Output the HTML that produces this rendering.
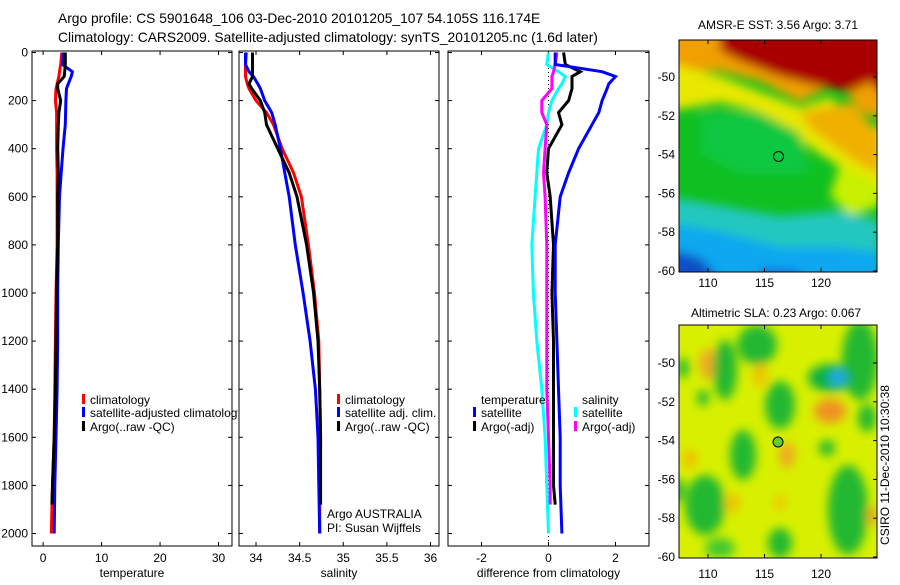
<!DOCTYPE html>
<html><head><meta charset="utf-8"><style>
html,body{margin:0;padding:0;background:#fff;}
svg text{font-family:"Liberation Sans",sans-serif;font-size:12px;fill:#000;}
</style></head><body>
<svg id="fig" width="900" height="580" viewBox="0 0 900 580" xmlns="http://www.w3.org/2000/svg">
<defs>
<filter id="blur1" x="-20%" y="-20%" width="140%" height="140%"><feGaussianBlur stdDeviation="5"/></filter>
<filter id="blur2" x="-20%" y="-20%" width="140%" height="140%"><feGaussianBlur stdDeviation="5"/></filter>
<clipPath id="clipM1"><rect x="679" y="40" width="198" height="232"/></clipPath>
<clipPath id="clipM2"><rect x="679" y="325" width="198" height="233"/></clipPath>
<clipPath id="clipP1"><rect x="0" y="0" width="238" height="580"/></clipPath>
</defs>
<text x="58" y="23" style="font-size:13.8px">Argo profile: CS 5901648_106 03-Dec-2010 20101205_107 54.105S 116.174E</text>
<text x="58" y="42" style="font-size:13.8px">Climatology: CARS2009. Satellite-adjusted climatology: synTS_20101205.nc (1.6d later)</text>

<g clip-path="url(#clipM1)">
<rect x="679" y="40" width="198" height="232" fill="#10c020"/>
<g filter="url(#blur1)" transform="translate(0,40) scale(1,1.036) translate(0,-40)">
<polygon points="660,30 900,30 900,120 860,110 840,80 800,100 760,80 720,70 660,70" fill="#f0a000"/>
<polygon points="660,60 720,75 760,90 800,105 830,95 860,120 900,130 900,180 870,200 860,175 820,150 790,130 760,110 720,100 660,110" fill="#e8e800"/>
<polygon points="720,30 900,30 900,110 870,80 850,90 820,85 780,75 740,60 720,50" fill="#a80000"/>
<polygon points="800,110 850,100 880,130 880,170 860,160 830,140 810,125" fill="#f0b000"/>
<polygon points="840,160 880,180 880,200 850,210 830,190" fill="#c8f000"/>
<polygon points="700,110 760,110 800,130 810,170 740,170 700,150" fill="#10c840"/>
<polygon points="660,190 720,200 780,210 840,205 880,215 880,280 660,280" fill="#20c8c0"/>
<polygon points="660,215 720,225 780,240 840,240 880,245 880,280 660,280" fill="#10a8f0"/>
<polygon points="660,240 700,250 720,270 660,280" fill="#0850c8"/>
<polygon points="760,260 800,262 800,280 760,280" fill="#1070e0"/>
</g>
</g>
<rect x="679" y="40" width="198" height="232" fill="none" stroke="#000"/>
<circle cx="778.5" cy="156.5" r="5" fill="none" stroke="#000"/>
<text x="778" y="29" text-anchor="middle">AMSR-E SST: 3.56 Argo: 3.71</text>

<g clip-path="url(#clipM2)">
<rect x="679" y="325" width="198" height="233" fill="#d8f000"/>
<g filter="url(#blur2)">
<ellipse cx="708" cy="364" rx="9" ry="15" fill="#f0a820"/>
<ellipse cx="830" cy="411" rx="16" ry="12" fill="#f09020"/>
<ellipse cx="787" cy="455" rx="8" ry="13" fill="#f0a820"/>
<ellipse cx="690" cy="459" rx="7" ry="10" fill="#f0c000"/>
<ellipse cx="733" cy="503" rx="7" ry="10" fill="#f0c000"/>
<ellipse cx="780" cy="503" rx="5" ry="8" fill="#f0c000"/>
<ellipse cx="873" cy="516" rx="6" ry="10" fill="#f0b000"/>
<ellipse cx="760" cy="375" rx="7" ry="12" fill="#f0c000"/>
<ellipse cx="725" cy="370" rx="12" ry="30" fill="#20b830"/>
<ellipse cx="757" cy="345" rx="20" ry="20" fill="#20b830"/>
<ellipse cx="860" cy="360" rx="18" ry="40" fill="#20b830"/>
<ellipse cx="830" cy="378" rx="22" ry="14" fill="#10b040"/>
<ellipse cx="838" cy="378" rx="9" ry="9" fill="#20a8e8"/>
<ellipse cx="780" cy="405" rx="15" ry="24" fill="#20b830"/>
<ellipse cx="743" cy="455" rx="13" ry="25" fill="#20b830"/>
<ellipse cx="705" cy="505" rx="20" ry="30" fill="#20b830"/>
<ellipse cx="848" cy="510" rx="20" ry="45" fill="#20b830"/>
<ellipse cx="780" cy="543" rx="12" ry="15" fill="#20b830"/>
<ellipse cx="683" cy="368" rx="6" ry="10" fill="#20b830"/>
<ellipse cx="703" cy="398" rx="6" ry="8" fill="#20b830"/>
<ellipse cx="827" cy="448" rx="8" ry="8" fill="#20b830"/>
<ellipse cx="867" cy="418" rx="9" ry="14" fill="#20b830"/>
<ellipse cx="678" cy="490" rx="6" ry="12" fill="#20b830"/>
<ellipse cx="720" cy="548" rx="15" ry="10" fill="#40c830"/>
</g>
</g>
<rect x="679" y="325" width="198" height="233" fill="none" stroke="#000"/>
<circle cx="778" cy="442" r="5" fill="#60d030" stroke="#000"/>
<text x="776" y="317" text-anchor="middle">Altimetric SLA: 0.23 Argo: 0.067</text>
<text transform="translate(889,465) rotate(-90)" text-anchor="middle">CSIRO 11-Dec-2010 10:30:38</text>

<g id="plots"></g>
</svg>
<script>
// depth grids
const depthT = [0,50,80,100,130,150,200,250,300,400,500,600,800,1000,1200,1400,1600,1800,2000];
const tClim = [3.2,3.0,2.8,2.7,2.4,2.2,2.1,2.3,2.3,2.3,2.4,2.4,2.4,2.2,2.1,2.0,1.9,1.6,1.4];
const tSat  = [3.5,3.3,5.0,4.8,4.3,4.0,3.9,3.85,3.8,3.4,3.1,2.8,2.6,2.5,2.5,2.4,2.2,2.0,1.9];
const depthArgo = [0,50,80,100,130,150,200,250,300,400,500,600,800,1000,1200,1400,1600,1800,1880];
const tArgo = [3.8,3.8,3.7,3.6,2.5,2.5,3.0,2.7,2.6,2.5,2.6,2.5,2.5,2.3,2.2,2.1,1.9,1.6,1.5];
const sClim = [33.89,33.88,33.88,33.88,33.9,33.92,34.0,34.12,34.2,34.3,34.43,34.52,34.6,34.67,34.72,34.73,34.74,34.73,34.73];
const sSat  = [33.88,33.88,33.92,33.97,34.02,34.05,34.1,34.18,34.22,34.28,34.33,34.38,34.45,34.54,34.62,34.68,34.71,34.72,34.73];
const sArgo = [33.96,33.96,33.96,33.96,33.92,33.95,34.05,34.1,34.12,34.25,34.38,34.47,34.58,34.66,34.71,34.73,34.74,34.74,34.74];
const dTSat  = [0.2,0.2,1.6,2.0,1.8,1.75,1.6,1.5,1.3,0.9,0.6,0.35,0.2,0.2,0.25,0.3,0.35,0.35,0.4];
const dTArgo = [0.45,0.5,0.95,0.7,0.7,0.7,0.6,0.3,0.4,0.0,-0.05,0.05,0.15,0.1,0.15,0.15,0.15,0.15,0.2];
const dSSat  = [0.0,-0.05,0.3,0.5,0.4,0.3,0.1,0.0,-0.05,-0.3,-0.35,-0.4,-0.5,-0.45,-0.35,-0.2,-0.1,-0.05,0.0];
const dSArgo = [0.25,0.2,0.15,0.1,0.1,0.1,-0.2,-0.2,-0.05,-0.1,-0.15,-0.1,-0.05,-0.05,-0.05,-0.05,0.0,0.05,0.05];
const depthTicks = [0,200,400,600,800,1000,1200,1400,1600,1800,2000];
const tTicks = [0,10,20,30];
const sTicks = [34,34.5,35,35.5,36];
const dTicks = [-2,0,2];

const NS='http://www.w3.org/2000/svg';
const root=document.getElementById('plots');
function mk(tag,attrs,parent){const e=document.createElementNS(NS,tag);for(const k in attrs)e.setAttribute(k,attrs[k]);(parent||root).appendChild(e);return e;}
const yD = d => 52.5 + d*481/2000;
const FT=51, FB=546;
const panels = [
 {name:'temperature', x0:32, x1:232, v0:-1.9, v1:32.3, ticks:tTicks, label:'temperature'},
 {name:'salinity', x0:239, x1:439, v0:33.805, v1:36.097, ticks:sTicks, label:'salinity'},
 {name:'difference', x0:448, x1:649, v0:-3.0, v1:3.0, ticks:dTicks, label:'difference from climatology'}
];
panels.forEach(p=>{p.sx=v=>p.x0+(v-p.v0)/(p.v1-p.v0)*(p.x1-p.x0);});
panels.forEach((p,i)=>{
  const g=mk('g',{});
  
  
  mk('rect',{x:p.x0,y:FT,width:p.x1-p.x0,height:FB-FT,fill:'none',stroke:'#000'},g);
  p.ticks.forEach(t=>{
    const x=p.sx(t);
    mk('line',{x1:x,x2:x,y1:FB,y2:FB-4,stroke:'#000'},g);
    mk('line',{x1:x,x2:x,y1:FT,y2:FT+4,stroke:'#000'},g);
    const tx=mk('text',{x:x,y:562,'text-anchor':'middle'},g);
    
    
    tx.textContent=String(t);
  });
  depthTicks.forEach(d=>{
    const y=yD(d);
    mk('line',{x1:p.x0,x2:p.x0+4,y1:y,y2:y,stroke:'#000'},g);
    mk('line',{x1:p.x1,x2:p.x1-4,y1:y,y2:y,stroke:'#000'},g);
    if(i===0){const tx=mk('text',{x:28,y:y+4,'text-anchor':'end'},g);
      
      
      tx.textContent=String(d);}
  });
  const lb=mk('text',{x:(p.x0+p.x1)/2,y:577,'text-anchor':'middle'},g);
  
  
  lb.textContent=p.label;
});
const P3=panels[2];
const zl=mk('line',{x1:P3.sx(0),x2:P3.sx(0),y1:FT+1,y2:FB,stroke:'#000','stroke-dasharray':'1,3'});



function series(p,depths,vals,color,name){
  const pts=vals.map((v,k)=>p.sx(v).toFixed(1)+','+yD(depths[k]).toFixed(1)).join(' ');
  const l=mk('polyline',{points:pts,fill:'none',stroke:color,'stroke-width':3,'stroke-linejoin':'miter'});
  
  
}
series(panels[0],depthT,tClim,'#f00','temp-climatology-line');
series(panels[0],depthT,tSat,'#00f','temp-satellite-line');
series(panels[0],depthArgo,tArgo,'#000','temp-argo-line');
series(panels[1],depthT,sClim,'#f00','sal-climatology-line');
series(panels[1],depthT,sSat,'#00f','sal-satellite-line');
series(panels[1],depthArgo,sArgo,'#000','sal-argo-line');
series(P3,depthT,dSSat,'#0ff','dsal-satellite-line');
series(P3,depthArgo,dSArgo,'#f0f','dsal-argo-line');
series(P3,depthArgo,dTArgo,'#000','dtemp-argo-line');
series(P3,depthT,dTSat,'#00f','dtemp-satellite-line');

const legP1=mk('g',{'clip-path':'url(#clipP1)'});
function legend(x,y,color,text,name,parent){
  if(color){const b=mk('rect',{x:x,y:y-10,width:3,height:10,fill:color},parent);
    
    }
  const t=mk('text',{x:x+8,y:y},parent);
  
  
  t.textContent=text;
}
legend(82,404,'#f00','climatology','temp-legend-climatology',legP1);
legend(82,417,'#00f','satellite-adjusted climatology','temp-legend-satellite',legP1);
legend(82,431,'#000','Argo(..raw -QC)','temp-legend-argo',legP1);
legend(337,404,'#f00','climatology','sal-legend-climatology');
legend(337,417,'#00f','satellite adj. clim.','sal-legend-satellite');
legend(337,431,'#000','Argo(..raw -QC)','sal-legend-argo');
legend(473,404,null,'temperature','diff-legend-temperature-heading');
legend(473,417,'#00f','satellite','diff-legend-temp-satellite');
legend(473,431,'#000','Argo(-adj)','diff-legend-temp-argo');
legend(574,404,null,'salinity','diff-legend-salinity-heading');
legend(574,417,'#0ff','satellite','diff-legend-sal-satellite');
legend(574,431,'#f0f','Argo(-adj)','diff-legend-sal-argo');
const a1=mk('text',{x:327,y:518});a1.textContent='Argo AUSTRALIA';
const a2=mk('text',{x:327,y:532});a2.textContent='PI: Susan Wijffels';

const latTicks=[-50,-52,-54,-56,-58,-60];
const lonTicks=[110,115,120];
[[40,272,77,19.4,'sst',287],[325,558,363,19.4,'sla',578]].forEach(m=>{
  const [top,bot,y50,ppd,nm,ly]=m;
  latTicks.forEach(l=>{
    const y=y50+(-50-l)*ppd;
    mk('line',{x1:877,x2:873,y1:y,y2:y,stroke:'#000'});
    const t=mk('text',{x:675,y:y+4,'text-anchor':'end'});
    
    
    t.textContent=String(l);
  });
  lonTicks.forEach(l=>{
    const x=708+(l-110)*11.3;
    mk('line',{x1:x,x2:x,y1:top,y2:top+4,stroke:'#000'});
    mk('line',{x1:x,x2:x,y1:bot,y2:bot-4,stroke:'#000'});
    const t=mk('text',{x:x,y:ly,'text-anchor':'middle'});
    
    
    t.textContent=String(l);
  });
});
</script>
</body></html>
